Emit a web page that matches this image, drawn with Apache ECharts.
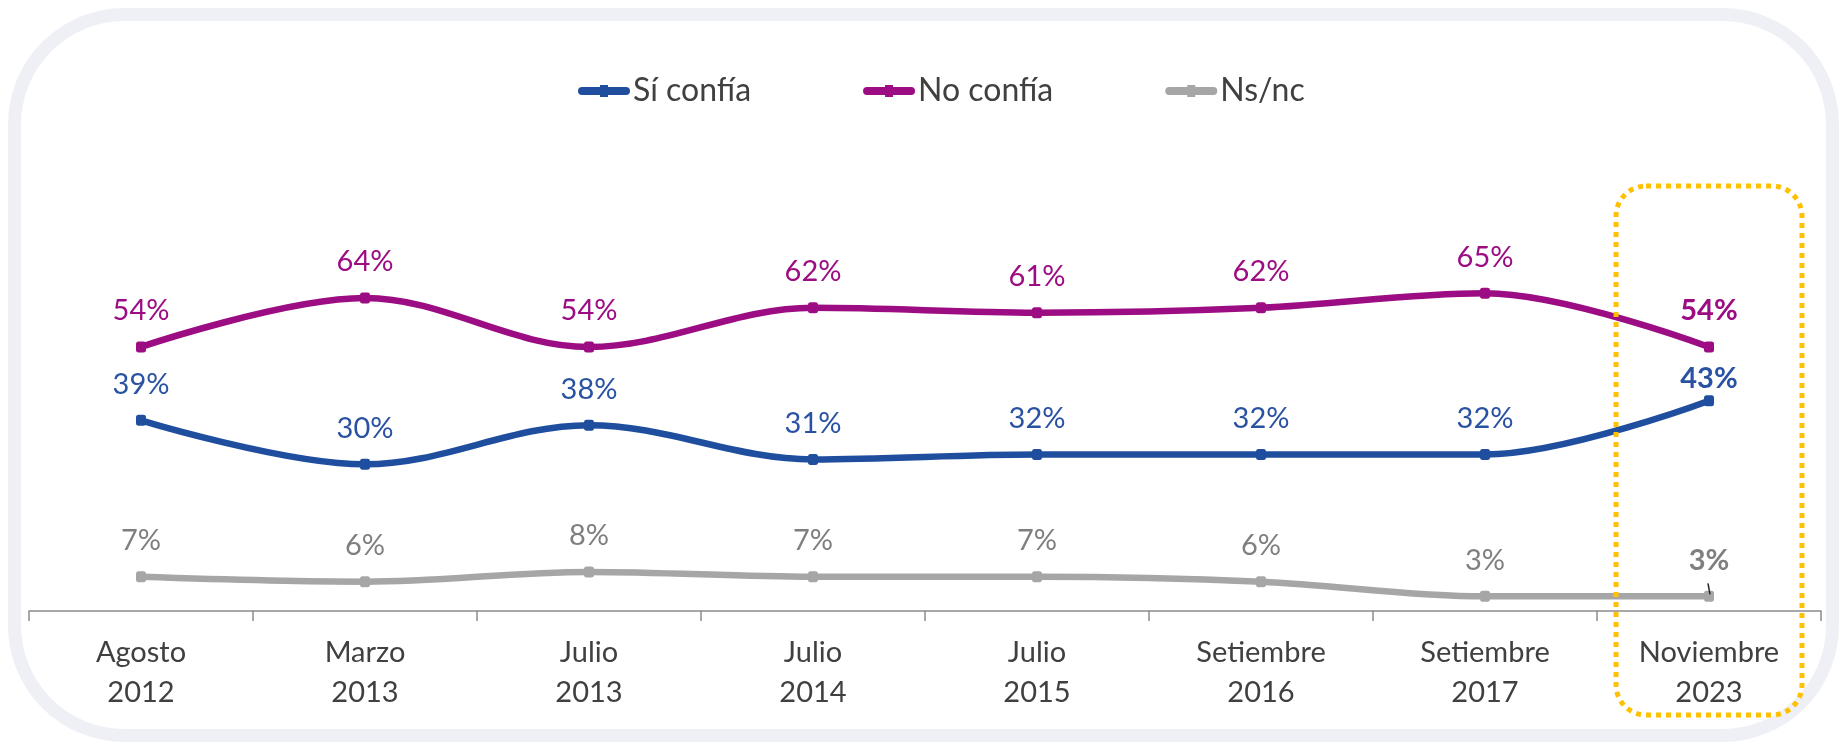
<!DOCTYPE html>
<html>
<head>
<meta charset="utf-8">
<title>Confianza</title>
<script src="https://cdn.jsdelivr.net/npm/echarts@6/dist/echarts.min.js"></script>
<style>
  html, body { margin: 0; padding: 0; background: #ffffff; }
  #chart { width: 1846px; height: 748px; }
</style>
</head>
<body>
<div id="chart"></div>
<script>
// Survey waves (two-line axis labels)
const categories = [
  'Agosto\n2012', 'Marzo\n2013', 'Julio\n2013', 'Julio\n2014',
  'Julio\n2015', 'Setiembre\n2016', 'Setiembre\n2017', 'Noviembre\n2023'
];
// Percentages per wave
const siConfia = [39, 30, 38, 31, 32, 32, 32, 43];
const noConfia = [54, 64, 54, 62, 61, 62, 65, 54];
const nsNc     = [7, 6, 8, 7, 7, 6, 3, 3];

const FONT = 'Lato, "Open Sans", sans-serif';
const BLUE = '#1f4e9f';
const PURPLE = '#9c0c83';
const GREY = '#a6a6a6';

// Legend icon: thick rounded bar with a small square marker in the middle
const LEGEND_ICON = 'path://M4,2 L48,2 A4,4 0 0 1 48,10 L4,10 A4,4 0 0 1 4,2 Z M22,0 L30,0 L30,12 L22,12 Z';

// Last wave is highlighted with bold labels
function seriesData(values, labelColor, lastDistance) {
  return values.map((v, i) => {
    if (i !== values.length - 1) return v;
    const lab = { fontWeight: 'bold', color: labelColor };
    if (lastDistance != null) lab.distance = lastDistance;
    return { value: v, label: lab };
  });
}

function lineSeries(name, values, color, labelColor, lastDistance) {
  return {
    name: name,
    type: 'line',
    data: seriesData(values, labelColor, lastDistance),
    smooth: 0.35,
    symbol: 'roundRect',
    symbolSize: [10, 11],
    lineStyle: { color: color, width: 6.5 },
    itemStyle: { color: color },
    label: {
      show: true,
      position: 'top',
      distance: 16,
      formatter: '{c}%',
      fontFamily: FONT,
      fontSize: 29,
      color: labelColor
    },
    emphasis: { disabled: true },
    animation: false
  };
}

const chart = echarts.init(document.getElementById('chart'), null, { renderer: 'canvas' });

chart.setOption({
  backgroundColor: '#ffffff',
  textStyle: { fontFamily: FONT },
  legend: {
    left: 573,
    top: 70,
    itemWidth: 52,
    itemHeight: 12,
    itemGap: 112,
    textStyle: { fontFamily: FONT, fontSize: 32, color: '#404040', padding: [0, 0, 0, -2] },
    data: [
      { name: 'Sí confía', icon: LEGEND_ICON },
      { name: 'No confía', icon: LEGEND_ICON },
      { name: 'Ns/nc', icon: LEGEND_ICON }
    ]
  },
  grid: { left: 29, right: 25, top: 122, bottom: 137 },
  xAxis: {
    type: 'category',
    data: categories,
    boundaryGap: true,
    axisLine: { lineStyle: { color: '#8c8c8c', width: 1.5 } },
    axisTick: { show: true, length: 10, lineStyle: { color: '#8c8c8c', width: 1.5 } },
    axisLabel: {
      fontFamily: FONT,
      fontSize: 29,
      lineHeight: 40,
      color: '#404040',
      margin: 22
    }
  },
  yAxis: {
    type: 'value',
    min: 0,
    max: 100,
    show: false,
    splitLine: { show: false }
  },
  series: [
    lineSeries('Sí confía', siConfia, BLUE, '#2a52a3', 2),
    lineSeries('No confía', noConfia, PURPLE, '#9c0c83'),
    lineSeries('Ns/nc', nsNc, GREY, '#7f7f7f')
  ]
});

// Decorative frame, highlight box around the latest wave, and leader tick for its Ns/nc label
const lastIdx = categories.length - 1;
const lastCat = categories[lastIdx];
const cx = chart.convertToPixel({ xAxisIndex: 0 }, lastCat);
const band = chart.convertToPixel({ xAxisIndex: 0 }, categories[1]) -
             chart.convertToPixel({ xAxisIndex: 0 }, categories[0]);
const boxW = band * 0.83;
const nsPt = chart.convertToPixel({ xAxisIndex: 0, yAxisIndex: 0 }, [lastCat, nsNc[lastIdx]]);

chart.setOption({
  graphic: [
    {
      type: 'rect',
      silent: true,
      z: -10,
      shape: { x: 14.5, y: 14.5, width: 1818, height: 721, r: 110 },
      style: { fill: 'none', stroke: '#eef0f5', lineWidth: 13 }
    },
    {
      type: 'rect',
      silent: true,
      z: 10,
      shape: { x: cx - boxW / 2, y: 186, width: boxW, height: 529, r: 30 },
      style: { fill: 'none', stroke: '#ffc000', lineWidth: 5, lineDash: [5, 5] }
    },
    {
      type: 'line',
      silent: true,
      z: 20,
      shape: { x1: nsPt[0] - 1, y1: nsPt[1] - 13, x2: nsPt[0] + 1, y2: nsPt[1] - 2 },
      style: { stroke: '#262626', lineWidth: 1.5 }
    }
  ]
});
</script>
</body>
</html>
